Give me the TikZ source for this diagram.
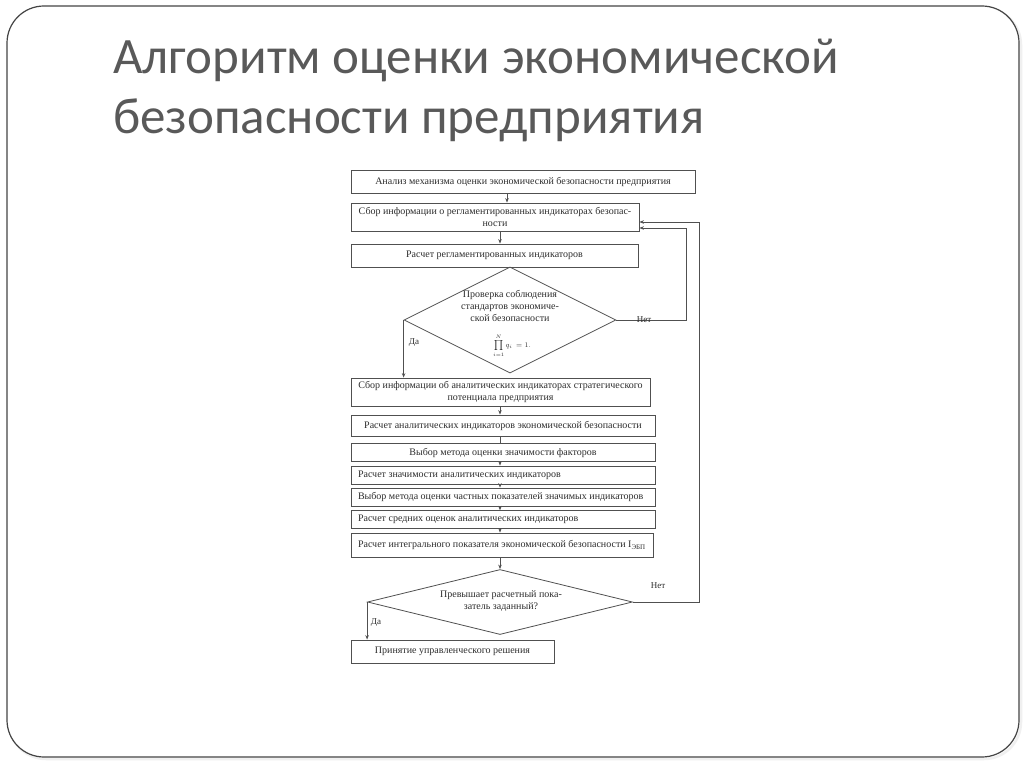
\documentclass[tikz,border=0pt]{standalone}
\usepackage{fontspec}
\setmainfont{Liberation Serif}
\newfontfamily\titlefont{Carlito}
\usetikzlibrary{shapes.geometric,arrows.meta}
\definecolor{titlegray}{RGB}{89,89,89}
\definecolor{framegray}{RGB}{68,68,68}
\definecolor{linegray}{RGB}{80,80,80}
\definecolor{txtgray}{RGB}{45,45,45}
\tikzset{
  box/.style={draw=linegray, line width=0.8pt, inner sep=0pt, text=txtgray,
    font=\fontsize{10}{12}\selectfont, align=center},
  dia/.style={draw=linegray, line width=0.8pt, diamond, inner sep=0pt, aspect=2},
  conn/.style={draw=linegray, line width=0.8pt},
  arr/.style={conn, -{Stealth[length=4.5pt,width=3.5pt]}},
  lbl/.style={text=txtgray, font=\fontsize{9}{11}\selectfont, inner sep=0pt},
  dtext/.style={text=txtgray, font=\fontsize{10}{12}\selectfont, align=center, inner sep=0pt},
  ttl/.style={text=titlegray, font=\titlefont\fontsize{51}{60}\selectfont, inner sep=0pt, anchor=base west}
}
\begin{document}
\begin{tikzpicture}[x=1pt,y=-1pt]
\useasboundingbox (0,0) rectangle (1024,767);
\fill[white] (0,0) rectangle (1024,767);
% slide frame with faint shadow
\draw[gray!12, line width=2.5pt, rounded corners=37pt] (9,8) rectangle (1021,759);
\draw[framegray, line width=1.2pt, fill=white, rounded corners=37pt] (7,6) rectangle (1019,757);
% title
\node[ttl] (t1) at (113,74) {Алгоритм оценки экономической};
\node[ttl] (t2) at (113,134) {безопасности предприятия};
% spine coordinates
\coordinate (s1) at (507,0);
\coordinate (sp) at (500,0);
% boxes
\node[box, minimum width=344pt, minimum height=23pt] (b1) at (523,181.5)
  {Анализ механизма оценки экономической безопасности предприятия};
\node[box, minimum width=288pt, minimum height=28pt] (b2) at (495,217)
  {Сбор информации о регламентированных индикаторах безопас-\\ности};
\node[box, minimum width=287pt, minimum height=23pt] (b3) at (494.5,255.5)
  {Расчет регламентированных индикаторов};
\node[dia, minimum width=212pt, minimum height=106pt] (d1) at (510,320) {};
\node[dtext] (d1t) at (510,306) {Проверка соблюдения\\стандартов экономиче-\\ской безопасности};
\node[dtext, font=\fontsize{7}{8}\selectfont] (d1f) at (512,346) {$\prod\limits_{i=1}^{N} q_i\,=1.$};
\node[box, minimum width=299pt, minimum height=28pt] (b4) at (500.5,392)
  {Сбор информации об аналитических индикаторах стратегического\\потенциала предприятия};
\node[box, minimum width=304pt, minimum height=21pt] (b5) at (503,425.5)
  {Расчет аналитических индикаторов экономической безопасности};
\node[box, minimum width=304pt, minimum height=18pt] (b6) at (503,452.5)
  {Выбор метода оценки значимости факторов};
\node[box, minimum width=304pt, minimum height=18pt] (b7) at (503,475)
  {\makebox[290pt][l]{Расчет значимости аналитических индикаторов}};
\node[box, minimum width=304pt, minimum height=18pt] (b8) at (503,497)
  {\makebox[290pt][l]{Выбор метода оценки частных показателей значимых индикаторов}};
\node[box, minimum width=304pt, minimum height=17.5pt] (b9) at (503,519.5)
  {\makebox[290pt][l]{Расчет средних оценок аналитических индикаторов}};
\node[box, minimum width=302pt, minimum height=24pt] (b10) at (502,545)
  {\makebox[288pt][l]{Расчет интегрального показателя экономической безопасности I\textsubscript{ЭБП}}};
\node[dia, minimum width=265pt, minimum height=65pt] (d2) at (500,602) {};
\node[dtext] (d2t) at (501,601) {Превышает расчетный пока-\\затель заданный?};
\node[box, minimum width=203pt, minimum height=23pt] (b11) at (452.5,651.5)
  {Принятие управленческого решения};
% connectors
\draw[arr] (b1.south-|s1) -- (b2.north-|s1);
\draw[arr] (b2.south-|sp) -- (b3.north-|sp);
\draw[arr] (d1.west) -- (d1.west|-b4.north);
\coordinate (l1a) at (686,320);
\coordinate (l1b) at (686,228);
\draw[arr] (d1.east) -- (l1a) -- (l1b) -- (l1b-|b2.east);
\draw[arr] (b4.south-|sp) -- (b5.north-|sp);
\draw[conn] (b5.south-|sp) -- (b6.north-|sp);
\draw[arr] (b6.south-|sp) -- (b7.north-|sp);
\draw[arr] (b7.south-|sp) -- (b8.north-|sp);
\draw[arr] (b8.south-|sp) -- (b9.north-|sp);
\draw[arr] (b9.south-|sp) -- (b10.north-|sp);
\draw[arr] (b10.south-|sp) -- (d2.north);
\draw[arr] (d2.west) -- (d2.west|-b11.north);
\coordinate (l2a) at (699,602);
\coordinate (l2b) at (699,222);
\draw[arr] (d2.east) -- (l2a) -- (l2b) -- (l2b-|b2.east);
% labels
\node[lbl] (n1) at (644,320) {Нет};
\node[lbl] (y1) at (414,343) {Да};
\node[lbl] (n2) at (658,586) {Нет};
\node[lbl] (y2) at (376,623) {Да};
\end{tikzpicture}
\end{document}
